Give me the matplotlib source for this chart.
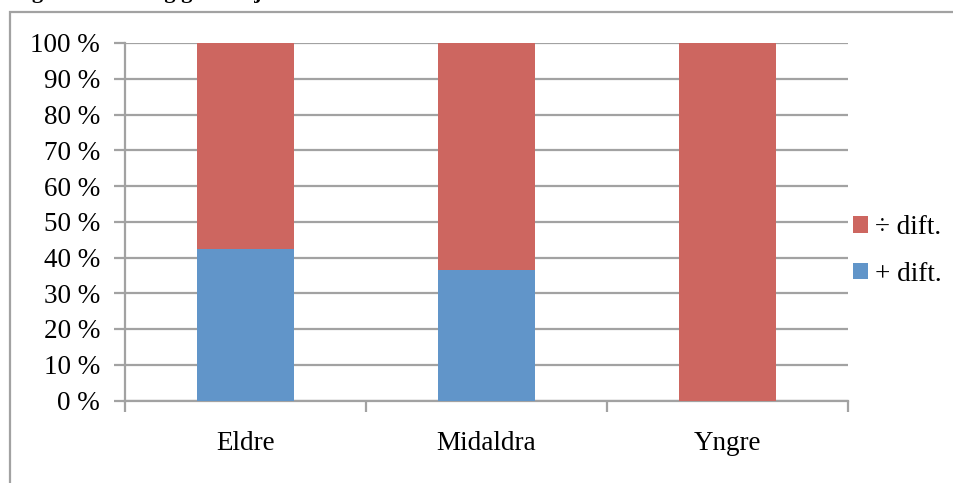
import matplotlib.pyplot as plt
from matplotlib.patches import Rectangle
from matplotlib.ticker import FuncFormatter

groups = ["Eldre", "Midaldra", "Yngre"]
pluss_dift = [42.3, 36.6, 0.0]
minus_dift = [57.7, 63.4, 100.0]
y_ticks = list(range(0, 101, 10))

red = "#CD6660"
blue = "#6195C9"
grid_grey = "#A2A2A2"

plt.rcParams["font.family"] = ["Liberation Serif", "DejaVu Serif"]

W, H = 954, 483
fig = plt.figure(figsize=(W / 100, H / 100), dpi=100)

# outer chart frame (runs off the right and bottom edge)
fig.patches.append(Rectangle((10.5 / W, -0.1), 1.0, 1 - 12.5 / H + 0.1,
                             transform=fig.transFigure, fill=False,
                             edgecolor=grid_grey, lw=1.6))

# caption sits above the page, only its lowest strokes show
fig.text(12 / W, 1 + 2 / H, "Figur 7: Alder og generasjonsnivå",
         fontsize=16, fontweight="bold", va="baseline", ha="left")

ax = fig.add_axes([125 / W, 1 - 400.5 / H, (848 - 125) / W, (400.5 - 43) / H])

x = range(len(groups))
ax.bar(x, pluss_dift, width=0.4, color=blue, label="+ dift.", zorder=3)
ax.bar(x, minus_dift, width=0.4, bottom=pluss_dift, color=red,
       label="÷ dift.", zorder=3)

ax.set_xlim(-0.5, 2.5)
ax.set_ylim(0, 100)
ax.set_yticks(y_ticks)
ax.yaxis.set_major_formatter(FuncFormatter(lambda v, p: f"{v:.0f} %"))
ax.yaxis.grid(True, color=grid_grey, lw=1.6, zorder=0)
ax.set_axisbelow(True)

ax.set_xticks([-0.5, 0.5, 1.5, 2.5], minor=False)
ax.set_xticklabels([])
ax.set_xticks(list(x), minor=True)
ax.set_xticklabels(groups, minor=True)
ax.tick_params(axis="x", which="major", length=8, width=1.6, color=grid_grey)
ax.tick_params(axis="x", which="minor", length=0, pad=22, labelsize=19.5)
ax.tick_params(axis="y", length=8, width=1.6, color=grid_grey, pad=10,
               labelsize=19.5)

for side in ["top", "right"]:
    ax.spines[side].set_visible(False)
for side in ["left", "bottom"]:
    ax.spines[side].set_color(grid_grey)
    ax.spines[side].set_linewidth(1.6)

handles, labels = ax.get_legend_handles_labels()
ax.legend(handles[::-1], labels[::-1], loc="center left",
          bbox_to_anchor=(829 / W, 1 - 251 / H), bbox_transform=fig.transFigure,
          frameon=False, fontsize=19.5, handlelength=0.55, handleheight=0.55,
          handletextpad=0.25, labelspacing=0.8)

fig.savefig("out.png", dpi=100)
